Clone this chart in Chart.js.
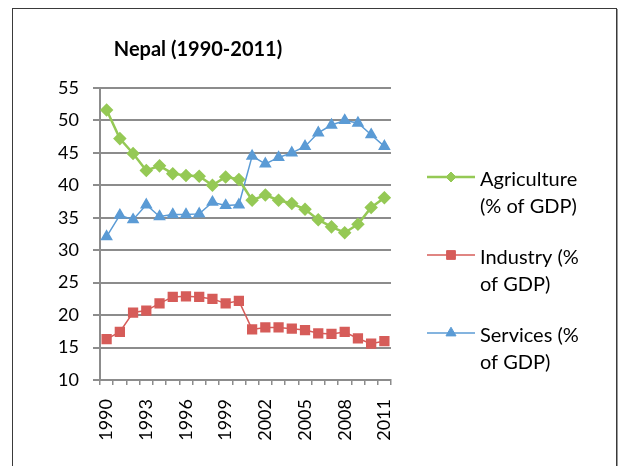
<!DOCTYPE html>
<html>
<head>
<meta charset="utf-8">
<script src="https://cdn.jsdelivr.net/npm/chart.js@4"></script>
<style>
  html, body { margin: 0; padding: 0; background: #fff; }
  #wrap { width: 618px; height: 466px; }
</style>
</head>
<body>
<div id="wrap"><canvas id="chart" width="618" height="466"></canvas></div>
<script>
// years 1990..2011, only every third one gets a label
const years = ['1990','1991','1992','1993','1994','1995','1996','1997','1998','1999','2000',
               '2001','2002','2003','2004','2005','2006','2007','2008','2009','2010','2011'];

const agriculture = [51.6, 47.2, 44.9, 42.3, 43.0, 41.8, 41.5, 41.4, 40.0, 41.3, 40.9,
                     37.7, 38.5, 37.7, 37.2, 36.3, 34.7, 33.6, 32.7, 34.0, 36.6, 38.1];
const industry    = [16.3, 17.4, 20.4, 20.7, 21.8, 22.8, 22.9, 22.8, 22.5, 21.8, 22.2,
                     17.8, 18.1, 18.1, 17.9, 17.7, 17.2, 17.1, 17.4, 16.4, 15.6, 16.0];
const services    = [32.1, 35.4, 34.7, 37.0, 35.2, 35.5, 35.5, 35.6, 37.4, 36.9, 37.0,
                     44.5, 43.3, 44.3, 45.0, 46.0, 48.1, 49.3, 50.0, 49.6, 47.8, 46.0];

const seriesNames = [['Agriculture', '(% of GDP)'], ['Industry (%', 'of GDP)'], ['Services (%', 'of GDP)']];
const yTicks = [10, 15, 20, 25, 30, 35, 40, 45, 50, 55];

const FONT = 'Lato, "Open Sans", sans-serif';
const GRID = '#8c8c8c';

// outer frame of the chart
const framePlugin = {
  id: 'frame',
  beforeDraw(chart) {
    const ctx = chart.ctx;
    ctx.save();
    ctx.fillStyle = '#fff';
    ctx.fillRect(0, 0, chart.width, chart.height);
    ctx.strokeStyle = '#3a3a3a';
    ctx.lineWidth = 1;
    ctx.strokeRect(12.5, 8.5, 604, 470);
    ctx.strokeStyle = '#9a9a9a';
    ctx.lineWidth = 2;
    ctx.beginPath();
    ctx.moveTo(618, 9);
    ctx.lineTo(618, 466);
    ctx.stroke();
    ctx.restore();
  }
};

// legend on the right with wrapped labels
const sideLegend = {
  id: 'sideLegend',
  afterDraw(chart) {
    const ctx = chart.ctx;
    const rows = [177, 255, 333];
    ctx.save();
    chart.data.datasets.forEach((ds, i) => {
      const y = rows[i];
      ctx.strokeStyle = ds.borderColor;
      ctx.lineWidth = ds.borderWidth;
      ctx.beginPath();
      ctx.moveTo(427, y);
      ctx.lineTo(475, y);
      ctx.stroke();
      ctx.fillStyle = ds.pointBackgroundColor;
      ctx.strokeStyle = ds.pointBackgroundColor;
      ctx.lineWidth = 1;
      Chart.helpers.drawPoint(ctx, { pointStyle: ds.pointStyle, radius: ds.pointRadius, borderWidth: 1 }, 451, y);
      ctx.fillStyle = '#000';
      ctx.font = '20px ' + FONT;
      ctx.textBaseline = 'middle';
      ctx.textAlign = 'left';
      seriesNames[i].forEach((t, k) => ctx.fillText(t, 480, y + 3 + k * 27));
    });
    ctx.restore();
  }
};

new Chart(document.getElementById('chart'), {
  type: 'line',
  data: {
    labels: years,
    datasets: [
      { label: seriesNames[0].join(' '), data: agriculture, borderColor: '#95c955', borderWidth: 2.5,
        pointStyle: 'rectRot', pointRadius: 5, pointBackgroundColor: '#95c955', pointBorderColor: '#95c955' },
      { label: seriesNames[1].join(' '), data: industry, borderColor: '#d65c59', borderWidth: 1.5,
        pointStyle: 'rect', pointRadius: 6.2, pointBackgroundColor: '#d65c59', pointBorderColor: '#d65c59' },
      { label: seriesNames[2].join(' '), data: services, borderColor: '#5b9bd5', borderWidth: 1.5,
        pointStyle: 'triangle', pointRadius: 5.8, pointBackgroundColor: '#5b9bd5', pointBorderColor: '#5b9bd5' }
    ]
  },
  options: {
    responsive: false,
    animation: false,
    layout: { padding: { left: 5, right: 227, top: 20, bottom: 26 } },
    plugins: {
      legend: { display: false },
      tooltip: { enabled: false },
      title: {
        display: true,
        text: 'Nepal (1990-2011)',
        color: '#000',
        font: { family: FONT, size: 20, weight: 'bold' },
        padding: { top: 18, bottom: 26 }
      }
    },
    scales: {
      x: {
        offset: true,
        afterFit: s => { s.height = 60; },
        grid: { offset: true, drawOnChartArea: false, color: GRID, tickLength: 5, lineWidth: 1.5 },
        border: { color: GRID, width: 2 },
        ticks: {
          autoSkip: false, maxRotation: 90, minRotation: 90, color: '#000',
          font: { family: FONT, size: 18 }, padding: 14,
          callback: (v, i) => (i % 3 === 0 ? years[i] : '')
        }
      },
      y: {
        min: yTicks[0], max: yTicks[yTicks.length - 1],
        afterFit: s => { s.width = 95; },
        afterBuildTicks: s => { s.ticks = yTicks.map(v => ({ value: v })); },
        grid: { color: GRID, lineWidth: 2, tickLength: 7 },
        border: { color: GRID, width: 2 },
        ticks: { color: '#000', font: { family: FONT, size: 18 }, padding: 14 }
      }
    }
  },
  plugins: [framePlugin, sideLegend]
});
</script>
</body>
</html>
